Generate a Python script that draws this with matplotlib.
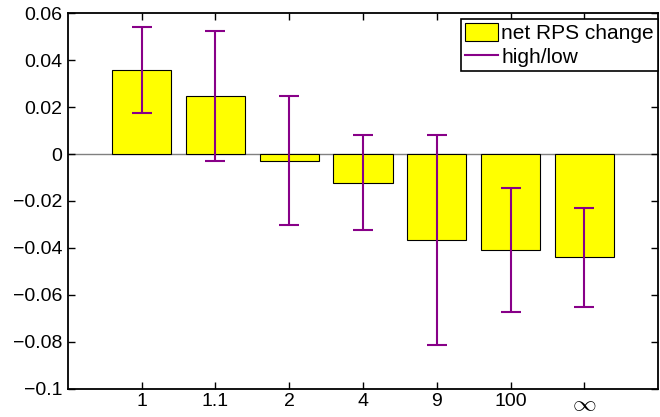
import matplotlib
matplotlib.use("Agg")
import matplotlib.pyplot as plt
import numpy as np

categories = ["1", "1.1", "2", "4", "9", "100", r"$\infty$"]
net_change = [0.0358, 0.0246, -0.0028, -0.0122, -0.0366, -0.0407, -0.0439]
high = [0.0543, 0.0523, 0.0246, 0.0080, 0.0080, -0.0143, -0.0228]
low = [0.0174, -0.0031, -0.0302, -0.0324, -0.0814, -0.0674, -0.0650]
y_ticks = [-0.1, -0.08, -0.06, -0.04, -0.02, 0, 0.02, 0.04, 0.06]

plt.rcParams['font.family'] = ['Liberation Sans', 'DejaVu Sans']
plt.rcParams['font.size'] = 14
plt.rcParams['mathtext.fontset'] = 'cm'

fig = plt.figure(figsize=(6.6, 4.17), dpi=100)
ax = fig.add_axes([0.103, 0.068, 0.894, 0.900])

x = np.arange(1, len(categories) + 1)
ax.axhline(0, color='#808080', lw=1, zorder=1)
bars = ax.bar(x, net_change, width=0.8, color='#ffff00', edgecolor='black',
              linewidth=0.8, zorder=2, label='net RPS change')
net = np.array(net_change)
yerr = np.vstack([net - np.array(low), np.array(high) - net])
eb = ax.errorbar(x, net, yerr=yerr, fmt='none', ecolor='#880088', elinewidth=1.5,
                 capsize=7.5, capthick=1.5, zorder=3)
line_handle, = ax.plot([], [], color='#880088', lw=1.5, label='high/low')

ax.set_xlim(0, 8)
ax.set_ylim(-0.1, 0.06)
ax.set_xticks(x)
ax.set_xticklabels(categories)
ax.set_yticks(y_ticks)
ax.set_yticklabels(['\u22120.1', '\u22120.08', '\u22120.06', '\u22120.04', '\u22120.02',
                    '0', '0.02', '0.04', '0.06'])
ax.tick_params(direction='in', top=True, right=True, length=5, width=1, pad=4)
ax.tick_params(axis='x', pad=3)
inf_lbl = ax.get_xticklabels()[-1]
inf_lbl.set_fontsize(17)
for s in ax.spines.values():
    s.set_linewidth(1.3)

leg = ax.legend(handles=[bars, line_handle], labels=['net RPS change', 'high/low'],
                loc='upper right', bbox_to_anchor=(1.0, 0.986), fancybox=False,
                edgecolor='black', framealpha=1,
                fontsize=15, borderpad=0.2, labelspacing=0.15, handlelength=1.55,
                handleheight=1.0, handletextpad=0.17, borderaxespad=0.0)
leg.get_frame().set_linewidth(1.2)

fig.savefig('out.png', dpi=100)
